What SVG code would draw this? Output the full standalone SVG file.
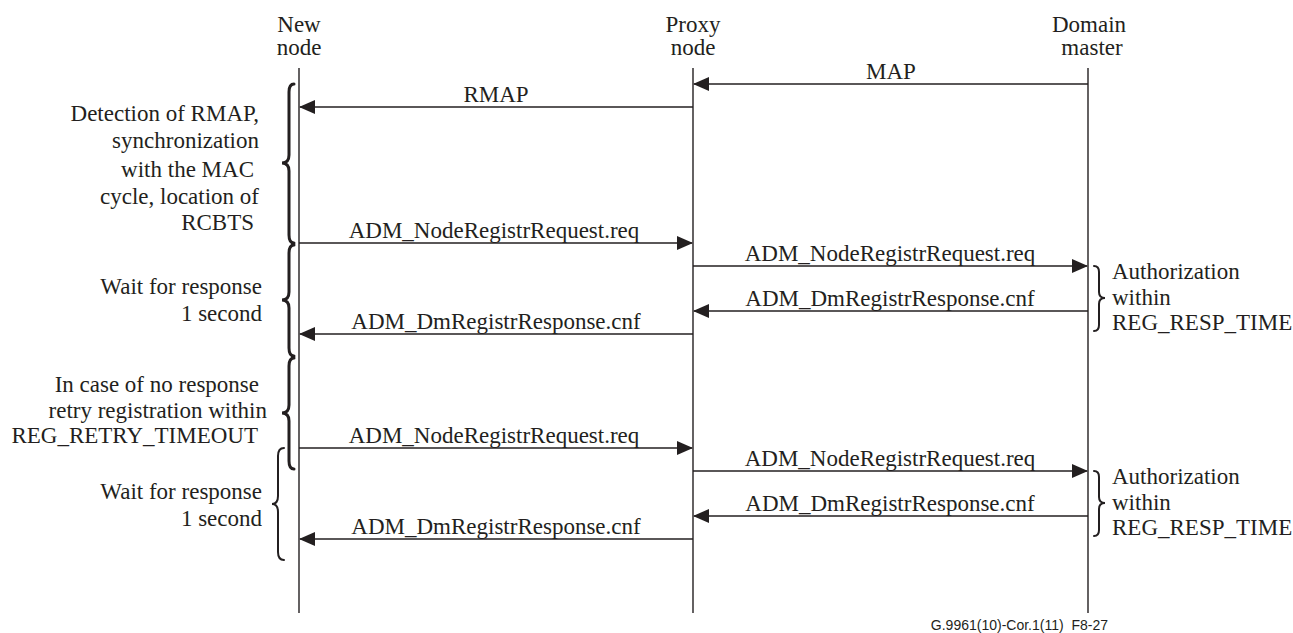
<svg xmlns="http://www.w3.org/2000/svg" width="1293" height="633" viewBox="0 0 1293 633" font-family="'Liberation Serif', Tinos, 'Times New Roman', 'DejaVu Serif', serif">
<style>
text{font-family:'Liberation Serif',Tinos,'Times New Roman','DejaVu Serif',serif;font-size:23px;fill:#231f20}
.c{text-anchor:middle}
.e{text-anchor:end}
.life{stroke:#231f20;stroke-width:1.4;fill:none}
.msg{stroke:#231f20;stroke-width:1.6;fill:none;marker-end:url(#ah)}
.br{stroke:#231f20;stroke-width:3;fill:none;stroke-linecap:round}
.brt{stroke:#231f20;stroke-width:2;fill:none;stroke-linecap:round}
text.foot{font-family:'Liberation Sans',Arial,sans-serif;font-size:14px;white-space:pre}
</style>
<defs>
<marker id="ah" markerUnits="userSpaceOnUse" markerWidth="16" markerHeight="14" viewBox="0 0 16 14" refX="15" refY="7" orient="auto">
<path d="M0,0 L16,7 L0,14 Z" fill="#231f20"/>
</marker>
</defs>
<rect width="1293" height="633" fill="#fff"/>

<g id="new-node">
<text class="c" x="299" y="32">New</text>
<text class="c" x="299" y="55">node</text>
<line class="life" x1="299" y1="68" x2="299" y2="613"/>
</g>
<g id="proxy-node">
<text class="c" x="693" y="32">Proxy</text>
<text class="c" x="693" y="55">node</text>
<line class="life" x1="693" y1="68" x2="693" y2="613"/>
</g>
<g id="domain-master">
<text class="c" x="1089" y="32">Domain</text>
<text class="c" x="1092" y="55">master</text>
<line class="life" x1="1088" y1="68" x2="1088" y2="613"/>
</g>

<g id="connectors">
<line class="msg" x1="1088" y1="84" x2="694" y2="84"/>
<text class="c" x="891" y="79">MAP</text>
<line class="msg" x1="693" y1="107" x2="300" y2="107"/>
<text class="c" x="496" y="102">RMAP</text>

<line class="msg" x1="299" y1="243" x2="692" y2="243"/>
<text class="c" x="494" y="238">ADM_NodeRegistrRequest.req</text>
<line class="msg" x1="693" y1="266" x2="1087" y2="266"/>
<text class="c" x="890" y="261">ADM_NodeRegistrRequest.req</text>
<line class="msg" x1="1088" y1="311" x2="694" y2="311"/>
<text class="c" x="890" y="306">ADM_DmRegistrResponse.cnf</text>
<line class="msg" x1="693" y1="334" x2="300" y2="334"/>
<text class="c" x="496" y="329">ADM_DmRegistrResponse.cnf</text>

<line class="msg" x1="299" y1="448" x2="692" y2="448"/>
<text class="c" x="494" y="443">ADM_NodeRegistrRequest.req</text>
<line class="msg" x1="693" y1="471" x2="1087" y2="471"/>
<text class="c" x="890" y="466">ADM_NodeRegistrRequest.req</text>
<line class="msg" x1="1088" y1="516" x2="694" y2="516"/>
<text class="c" x="890" y="511">ADM_DmRegistrResponse.cnf</text>
<line class="msg" x1="693" y1="539" x2="300" y2="539"/>
<text class="c" x="496" y="534">ADM_DmRegistrResponse.cnf</text>
</g>

<g id="note-detection">
<path class="br" d="M294,84 Q289,84 289,92 L289,155 Q289,163 282,163 Q289,163 289,171 L289,235 Q289,243 294,243"/>
<text class="e" x="259" y="121">Detection of RMAP,</text>
<text class="e" x="259" y="148">synchronization</text>
<text class="e" x="254" y="177">with the MAC</text>
<text class="e" x="259" y="204">cycle, location of</text>
<text class="e" x="254" y="230">RCBTS</text>
</g>

<g id="note-wait1">
<path class="br" d="M294,245 Q289,245 289,253 L289,292 Q289,300 282,300 Q289,300 289,308 L289,348 Q289,356 294,356"/>
<text class="e" x="262" y="294">Wait for response</text>
<text class="e" x="262" y="321">1 second</text>
</g>

<g id="note-retry">
<path class="br" d="M294,358 Q289,358 289,366 L289,405 Q289,413 282,413 Q289,413 289,421 L289,461 Q289,469 294,469"/>
<text class="e" x="259" y="392">In case of no response</text>
<text class="e" x="267" y="418">retry registration within</text>
<text class="e" x="258" y="443">REG_RETRY_TIMEOUT</text>
</g>

<g id="note-wait2">
<path class="brt" d="M284,448 Q278,448 278,456 L278,496 Q278,504 272,504 Q278,504 278,512 L278,552 Q278,560 284,560"/>
<text class="e" x="262" y="499">Wait for response</text>
<text class="e" x="262" y="526">1 second</text>
</g>

<g id="note-auth1">
<path class="brt" d="M1094,266 Q1099,266 1099,272 L1099,292 Q1099,298 1105,298 Q1099,298 1099,304 L1099,325 Q1099,331 1094,331"/>
<text x="1112" y="279">Authorization</text>
<text x="1112" y="305">within</text>
<text x="1112" y="330">REG_RESP_TIME</text>
</g>

<g id="note-auth2">
<path class="brt" d="M1094,471 Q1099,471 1099,477 L1099,497 Q1099,503 1105,503 Q1099,503 1099,509 L1099,530 Q1099,536 1094,536"/>
<text x="1112" y="484">Authorization</text>
<text x="1112" y="510">within</text>
<text x="1112" y="535">REG_RESP_TIME</text>
</g>

<text class="foot e" x="1108" y="630">G.9961(10)-Cor.1(11)  F8-27</text>
</svg>
